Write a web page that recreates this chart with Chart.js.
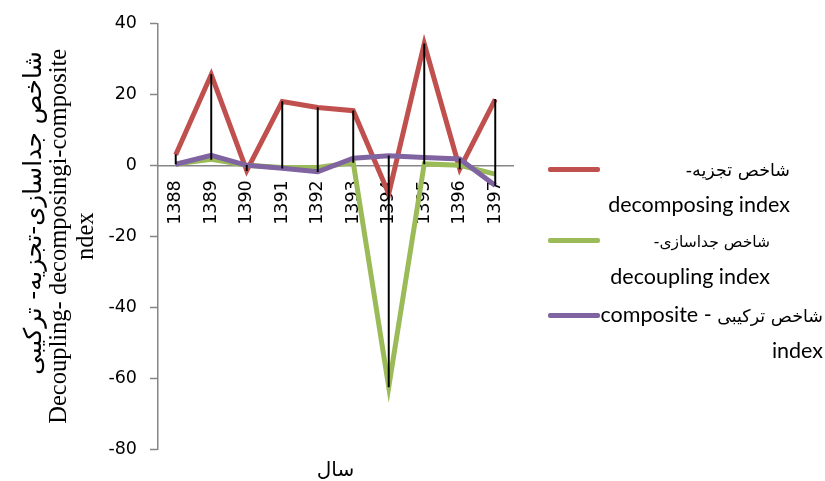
<!DOCTYPE html>
<html>
<head>
<meta charset="utf-8">
<script src="https://cdn.jsdelivr.net/npm/chart.js@4.4.1/dist/chart.umd.min.js"></script>
<style>
    body { margin: 0; background: #fff; }
    #wrap { position: relative; width: 825px; height: 481px; }
    #legend { position: absolute; left: 548px; top: 0; width: 277px; font-family: Lato, sans-serif; color: #000; }
    .swatch { position: absolute; left: 0; width: 52px; height: 5px; border-radius: 2px; }
    .txt { position: absolute; text-align: right; font-size: 21.5px; line-height: 34px; white-space: nowrap; }
    .txt div { text-align: right; }
    .fa { font-family: 'DejaVu Sans', sans-serif; font-size: 17.5px; direction: rtl; unicode-bidi: isolate; }
</style>
</head>
<body>
<div id="wrap">
    <canvas id="chart" width="825" height="481"></canvas>
    <div id="legend"></div>
</div>
<script>
// years (Persian calendar)
const years = ['1388', '1389', '1390', '1391', '1392', '1393', '1394', '1395', '1396', '1397'];
const decomposing = [3, 25.6, -1.5, 18, 16.3, 15.4, -8, 34.3, -1, 18.6];
const decoupling = [0.4, 1.7, 0, -0.6, -0.6, 0.8, -62.5, 0.4, 0, -2.5];
const composite = [0.3, 2.8, 0, -0.8, -1.8, 2, 2.7, 2.2, 1.8, -5.7];
const yTicks = [-80, -60, -40, -20, 0, 20, 40];

// legend names: [persian part, english part, english wrapped tail]
const seriesNames = [
    ['شاخص تجزیه-', '', 'decomposing index'],
    ['شاخص جداسازی-', '', 'decoupling index'],
    ['شاخص ترکیبی', 'composite', 'index']
];
const colors = ['#C0504D', '#9BBB59', '#8064A2'];

// high-low lines between the largest and smallest value of each year
const highLow = years.map((y, i) => {
    const vals = [decomposing[i], decoupling[i], composite[i]];
    return [Math.min(...vals), Math.max(...vals)];
});

const tickFont = { family: "'DejaVu Sans', sans-serif", size: 17.5 };

const ctx = document.getElementById('chart');
const chart = new Chart(ctx, {
    data: {
        labels: years,
        datasets: [{
            type: 'bar',
            data: highLow,
            backgroundColor: '#000',
            barThickness: 1.3,
            order: 1
        }, {
            type: 'line',
            label: seriesNames[0].join(' '),
            data: decomposing,
            borderColor: colors[0],
            borderWidth: 5,
            pointRadius: 0,
            tension: 0,
            order: 4
        }, {
            type: 'line',
            label: seriesNames[1].join(' '),
            data: decoupling,
            borderColor: colors[1],
            borderWidth: 5,
            pointRadius: 0,
            tension: 0,
            order: 3
        }, {
            type: 'line',
            label: seriesNames[2].join(' '),
            data: composite,
            borderColor: colors[2],
            borderWidth: 5,
            pointRadius: 0,
            tension: 0,
            order: 2
        }]
    },
    options: {
        responsive: false,
        animation: false,
        layout: {
            padding: { left: 6, right: 312, top: 18, bottom: 0 }
        },
        plugins: {
            legend: { display: false },
            tooltip: { enabled: false }
        },
        scales: {
            x: {
                type: 'category',
                position: { y: 0 },
                offset: true,
                grid: { display: true, drawOnChartArea: false, drawTicks: false },
                border: { display: true, color: '#868686', width: 1.5 },
                ticks: {
                    color: '#000',
                    font: tickFont,
                    minRotation: 90,
                    maxRotation: 90,
                    padding: 15
                }
            },
            xTitle: {
                type: 'category',
                position: 'bottom',
                labels: years,
                grid: { display: false, drawTicks: false },
                border: { display: false },
                ticks: { display: false },
                title: {
                    display: true,
                    text: 'سال',
                    color: '#000',
                    font: { family: "'DejaVu Sans', sans-serif", size: 20 },
                    padding: { top: 10, bottom: -2 }
                }
            },
            yFa: {
                type: 'linear',
                position: 'left',
                weight: 1,
                min: -80,
                max: 40,
                grid: { display: false, drawTicks: false },
                border: { display: false },
                ticks: { display: false },
                title: {
                    display: true,
                    text: '      شاخص جداسازی-تجزیه- ترکیبی',
                    color: '#000',
                    font: { family: "'DejaVu Sans', sans-serif", size: 24.5, lineHeight: 1.0 },
                    padding: { top: 16, bottom: 0 }
                }
            },
            y: {
                min: -80,
                max: 40,
                afterBuildTicks: (axis) => {
                    axis.ticks = yTicks.map(v => ({ value: v }));
                },
                grid: { display: true, drawOnChartArea: false, drawTicks: true, tickLength: 8, color: '#868686', tickWidth: 1.5 },
                border: { display: true, color: '#868686', width: 1.5 },
                ticks: {
                    color: '#000',
                    font: tickFont,
                    padding: 13
                },
                title: {
                    display: true,
                    text: ['Decoupling- decomposingi-composite', 'ndex'],
                    color: '#000',
                    font: { family: "'Liberation Serif', serif", size: 24.5, lineHeight: 1.1 },
                    padding: { top: 0, bottom: -5 }
                }
            }
        }
    }
});

// legend built from the series names
const legend = document.getElementById('legend');
const swatchTops = [167, 238, 313];
const textRights = [35, 55, 2];
seriesNames.forEach((name, i) => {
    const sw = document.createElement('div');
    sw.className = 'swatch';
    sw.style.top = swatchTops[i] + 'px';
    sw.style.background = colors[i];
    legend.appendChild(sw);
    const t = document.createElement('div');
    t.className = 'txt';
    t.style.top = (swatchTops[i] - 16) + 'px';
    t.style.right = textRights[i] + 'px';
    const l1 = document.createElement('div');
    if (name[1]) {
        const en = document.createElement('span');
        en.textContent = name[1] + ' - ';
        l1.appendChild(en);
    }
    const fa = document.createElement('span');
    fa.className = 'fa';
    fa.textContent = name[0];
    if (i === 1) fa.style.fontSize = '15.5px';
    l1.appendChild(fa);
    const l2 = document.createElement('div');
    l2.textContent = name[2];
    t.appendChild(l1);
    t.appendChild(l2);
    legend.appendChild(t);
});
</script>
</body>
</html>
